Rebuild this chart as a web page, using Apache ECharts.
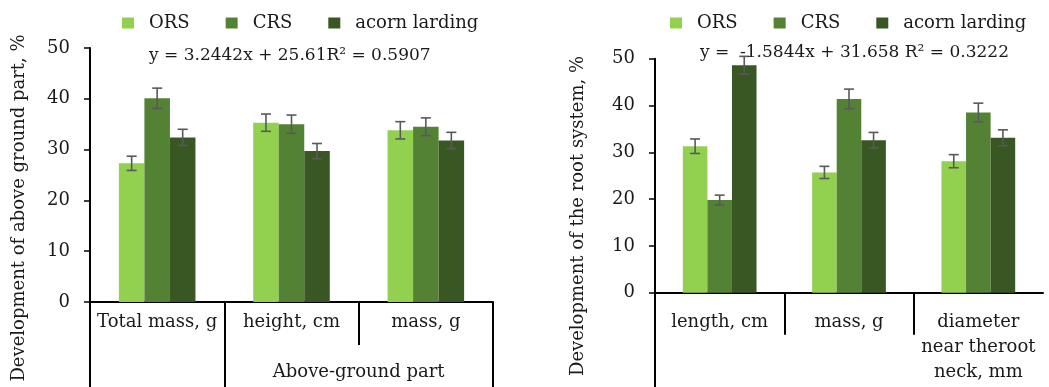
<!DOCTYPE html>
<html>
<head>
<meta charset="utf-8">
<script src="https://cdn.jsdelivr.net/npm/echarts@6/dist/echarts.min.js"></script>
<style>
  html, body { margin: 0; padding: 0; background: #fff; }
  #chart { width: 1049px; height: 387px; }
</style>
</head>
<body>
<div id="chart"></div>
<script>
// categories
const aboveCats = ['Total mass, g', 'height, cm', 'mass, g'];
const rootCats = ['length, cm', 'mass, g', 'diameter\nnear theroot\nneck, mm'];
const aboveGroup = 'Above-ground part';
const seriesNames = ['ORS', 'CRS', 'acorn larding'];

// values, %
const aboveORS = [27.3, 35.3, 33.8];
const aboveCRS = [40.1, 35.0, 34.5];
const aboveAcorn = [32.4, 29.7, 31.8];
const aboveORSErr = [1.4, 1.7, 1.7];
const aboveCRSErr = [2.0, 1.8, 1.75];
const aboveAcornErr = [1.6, 1.5, 1.6];

const rootORS = [31.3, 25.7, 28.1];
const rootCRS = [19.8, 41.4, 38.5];
const rootAcorn = [48.6, 32.6, 33.1];
const rootORSErr = [1.55, 1.3, 1.4];
const rootCRSErr = [1.05, 2.1, 2.0];
const rootAcornErr = [1.9, 1.65, 1.7];

const yTicks = [0, 10, 20, 30, 40, 50];

const aboveEq = 'y = 3.2442x + 25.61R\u00b2 = 0.5907';
const rootEq = 'y =  -1.5844x + 31.658 R\u00b2 = 0.3222';
const aboveTitle = 'Development of above ground part, %';
const rootTitle = 'Development of the root system, %';

const colors = ['#92D050', '#548235', '#385723'];
const FONT = 'DejaVu Serif';
const FS = 18;
const GAP = 0.43;

let chart = echarts.init(document.getElementById('chart'));

function barSeries(gi, vals) {
  return vals.map((v, k) => ({
    name: seriesNames[k],
    type: 'bar',
    xAxisIndex: gi * 3,
    yAxisIndex: gi,
    data: v,
    barGap: '0%',
    barCategoryGap: (GAP * 100) + '%',
    itemStyle: { color: colors[k] },
    z: 2
  }));
}

function errSeries(gi, vals, errs) {
  return vals.map((v, k) => ({
    name: seriesNames[k] + ' err',
    type: 'custom',
    xAxisIndex: gi * 3,
    yAxisIndex: gi,
    z: 5,
    data: v.map((y, i) => [i, y, errs[k][i]]),
    renderItem: function (params, api) {
      let i = api.value(0), y = api.value(1), e = api.value(2);
      let band = api.size([1, 0])[0];
      let bw = band * (1 - GAP) / 3;
      let x = api.coord([i, y])[0] + (k - 1) * bw;
      let top = api.coord([i, y + e])[1];
      let bot = api.coord([i, y - e])[1];
      let cap = 5;
      let st = { stroke: '#595959', lineWidth: 1.6 };
      return {
        type: 'group',
        children: [
          { type: 'line', shape: { x1: x, y1: top, x2: x, y2: bot }, style: st },
          { type: 'line', shape: { x1: x - cap, y1: top, x2: x + cap, y2: top }, style: st },
          { type: 'line', shape: { x1: x - cap, y1: bot, x2: x + cap, y2: bot }, style: st }
        ]
      };
    }
  }));
}

const grids = [
  { left: 90, top: 48, width: 403, height: 254 },
  { left: 655, top: 58.7, width: 388, height: 234 }
];

function catAxis(gi, cats, margin) {
  return {
    type: 'category', gridIndex: gi, data: cats,
    axisLine: { lineStyle: { color: '#000', width: 2 } },
    axisTick: { show: false },
    axisLabel: { interval: 0, margin: margin, fontFamily: FONT, fontSize: FS, color: '#1a1a1a', lineHeight: 25 }
  };
}
function tickAxis(gi, vals, len, label) {
  return {
    type: 'value', gridIndex: gi, min: 0, max: 3, position: 'bottom',
    axisLine: { show: false },
    splitLine: { show: false },
    axisTick: { show: true, customValues: vals, length: len, lineStyle: { color: '#000', width: 2 } },
    axisLabel: label ? {
      show: true, customValues: [2], formatter: () => label, margin: 61,
      fontFamily: FONT, fontSize: FS, color: '#1a1a1a'
    } : { show: false }
  };
}
function valAxis(gi) {
  return {
    type: 'value', gridIndex: gi, min: 0, max: 50, interval: 10,
    axisLine: { show: true, lineStyle: { color: '#000', width: 2 } },
    axisTick: { show: true, length: 6, lineStyle: { color: '#000', width: 1.5 } },
    splitLine: { show: false },
    axisLabel: {
      margin: 20, fontFamily: FONT, fontSize: FS, color: '#1a1a1a',
      customValues: yTicks
    }
  };
}

function legend(left) {
  return {
    left: left, top: 9, itemWidth: 12, itemHeight: 11, itemGap: 36,
    icon: 'rect', data: seriesNames,
    textStyle: { fontFamily: FONT, fontSize: FS, color: '#1a1a1a', padding: [0, 0, 0, 10] }
  };
}

const eqStyle = { fontFamily: FONT, fontSize: 17, fontWeight: 'normal', color: '#1a1a1a' };

chart.setOption({
  animation: false,
  backgroundColor: '#fff',
  grid: grids,
  legend: [legend(117), legend(665)],
  title: [
    { text: aboveEq, left: 149, top: 47, textStyle: eqStyle, padding: 0 },
    { text: rootEq, left: 700, top: 44, textStyle: eqStyle, padding: 0 }
  ],
  xAxis: [
    catAxis(0, aboveCats, 8), tickAxis(0, [2], 43), tickAxis(0, [0, 1, 3], 85, aboveGroup),
    catAxis(1, rootCats, 17), tickAxis(1, [1, 2], 42), tickAxis(1, [0], 95)
  ],
  yAxis: [valAxis(0), valAxis(1)],
  graphic: [
    { type: 'text', x: 19, y: 208, rotation: Math.PI / 2,
      style: { text: aboveTitle, font: FS + 'px "' + FONT + '"', fill: '#1a1a1a', align: 'center', verticalAlign: 'middle' } },
    { type: 'text', x: 578, y: 216, rotation: Math.PI / 2,
      style: { text: rootTitle, font: FS + 'px "' + FONT + '"', fill: '#1a1a1a', align: 'center', verticalAlign: 'middle' } }
  ],
  series: [].concat(
    barSeries(0, [aboveORS, aboveCRS, aboveAcorn]),
    errSeries(0, [aboveORS, aboveCRS, aboveAcorn], [aboveORSErr, aboveCRSErr, aboveAcornErr]),
    barSeries(1, [rootORS, rootCRS, rootAcorn]),
    errSeries(1, [rootORS, rootCRS, rootAcorn], [rootORSErr, rootCRSErr, rootAcornErr])
  )
});
</script>
</body>
</html>
